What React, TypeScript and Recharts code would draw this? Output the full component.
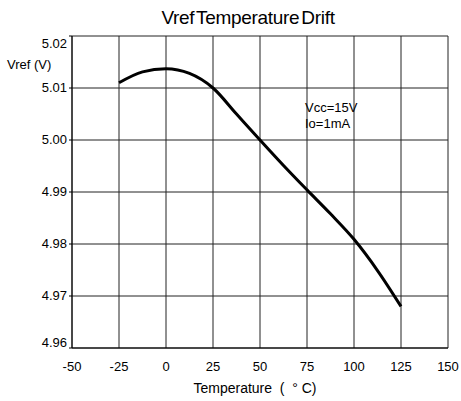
import { LineChart, Line, XAxis, YAxis, CartesianGrid } from 'recharts';

const temps = [-25, -12.5, 0, 12.5, 25, 37.5, 50, 62.5, 75, 87.5, 100, 112.5, 125];
const vref = [5.011, 5.0131, 5.0137, 5.0128, 5.01, 5.005, 5.0, 4.9951, 4.9904, 4.9858, 4.9809, 4.9749, 4.968];
const xTicks = [-50, -25, 0, 25, 50, 75, 100, 125, 150];
const yTicks = [4.96, 4.97, 4.98, 4.99, 5.0, 5.01, 5.02];
const notes = ['Vcc=15V', 'Io=1mA'];

const data = temps.map((t, i) => ({ t, v: vref[i] }));

const font = 'Arial, "Liberation Sans", sans-serif';

// the end labels sit inside the plot's height in the original
function YTick(props: any) {
  const { x, y, payload } = props;
  let dy = 4;
  if (payload.value >= 5.02) dy = 12;
  if (payload.value <= 4.96) dy = -1;
  return (
    <text x={x} y={y + dy} textAnchor="end" fontSize={13} fill="#000" fontFamily={font}>
      {Number(payload.value).toFixed(2)}
    </text>
  );
}

export default function App() {
  return (
    <div
      style={{
        position: 'absolute',
        left: 0,
        top: 0,
        width: 461,
        height: 401,
        background: '#fff',
        fontFamily: font,
      }}
    >
      <LineChart
        width={461}
        height={401}
        data={data}
        margin={{ top: 36, right: 13, bottom: 23, left: 0 }}
      >
        <CartesianGrid stroke="#222" strokeWidth={1} />
        <XAxis
          dataKey="t"
          type="number"
          domain={[-50, 150]}
          ticks={xTicks}
          height={30}
          stroke="#000"
          tickLine={false}
          tickMargin={8}
          tick={{ fontSize: 13, fill: '#000', fontFamily: font }}
        />
        <YAxis
          dataKey="v"
          type="number"
          width={72}
          domain={[4.96, 5.02]}
          ticks={yTicks}
          stroke="#000"
          tickSize={3}
          tickMargin={2}
          tick={<YTick />}
        />
        <Line
          dataKey="v"
          type="monotone"
          stroke="#000"
          strokeWidth={3}
          dot={false}
          isAnimationActive={false}
        />
      </LineChart>
      <div
        style={{
          position: 'absolute',
          left: 0,
          width: 496,
          top: 7,
          textAlign: 'center',
          fontSize: 19,
          letterSpacing: -0.3,
          wordSpacing: -3,
        }}
      >
        Vref Temperature Drift
      </div>
      <div style={{ position: 'absolute', left: 7, top: 57, fontSize: 13 }}>Vref (V)</div>
      <div
        style={{
          position: 'absolute',
          left: 0,
          width: 510,
          top: 380,
          textAlign: 'center',
          fontSize: 14,
          whiteSpace: 'pre',
        }}
      >
        {'Temperature  (  ° C)'}
      </div>
      <div style={{ position: 'absolute', left: 305, top: 100, fontSize: 13, lineHeight: '16px' }}>
        {notes.map((n) => (
          <div key={n}>{n}</div>
        ))}
      </div>
    </div>
  );
}
